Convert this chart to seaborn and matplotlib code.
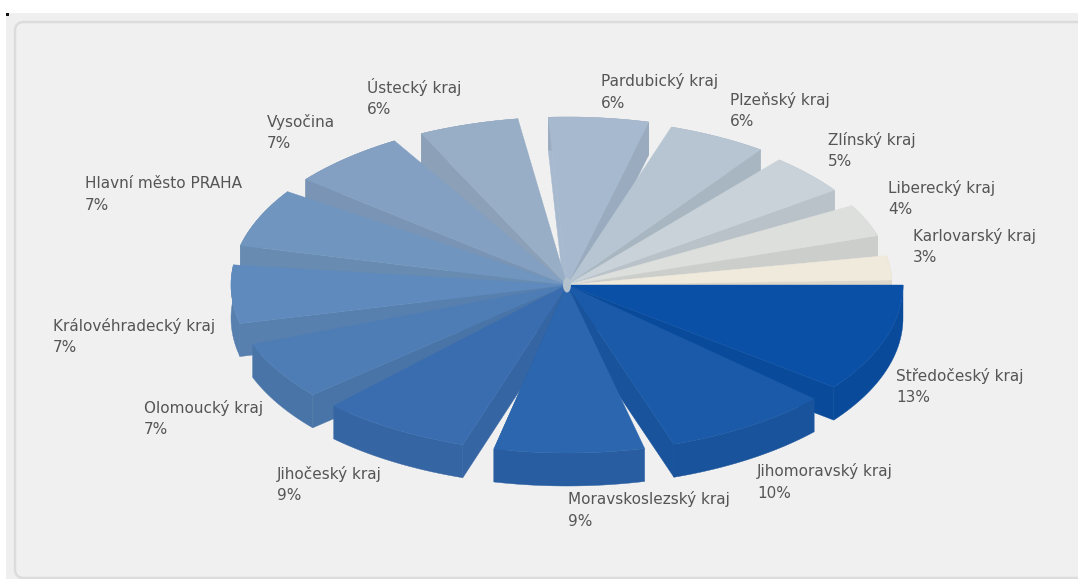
import numpy as np
import matplotlib
matplotlib.use("Agg")
import matplotlib.pyplot as plt
from matplotlib.colors import to_rgb
from matplotlib.patches import FancyBboxPatch, Rectangle, Ellipse
import seaborn as sns

# Regional shares in percent, clockwise from the east
regions = ["Středočeský kraj", "Jihomoravský kraj", "Moravskoslezský kraj", "Jihočeský kraj",
           "Olomoucký kraj", "Královéhradecký kraj", "Hlavní město PRAHA", "Vysočina",
           "Ústecký kraj", "Pardubický kraj", "Plzeňský kraj", "Zlínský kraj",
           "Liberecký kraj", "Karlovarský kraj"]
shares = [13, 10, 9, 9, 7, 7, 7, 7, 6, 6, 6, 5, 4, 3]

sns.set_theme(style="white")
plt.rcParams["font.family"] = ["DejaVu Sans"]

top_colors = sns.color_palette(["#0A50A6", "#1A5AA8", "#2B66AE", "#3A6DB0", "#4E7DB5", "#5F8ABD",
                                "#7096BF", "#83A0C3", "#97AEC6", "#A7B9CE", "#B6C5D1", "#C8D2D8",
                                "#DDDFDC", "#F0EADC"])

# Pie geometry in figure pixels
cx, cy = 567.0, 285.0
rx, ry = 336.0, 168.0
depth = 33.0
deg_per_pct = 2.88
gap_deg = 5.7
angle_shift = [0, -0.5, -1, -1.2, -1.7, 0, 1, 0.5, 0, -0.5, -2, -3, -2.5, -1]
reach = [1, 1, 1, 1, 1, 1, 1, 1, 1, 1, 0.99, 0.976, 0.97, 0.967]

# Label anchors: left edge and first-line centre, in pixels
label_x = [896, 757, 568, 277, 144, 53, 85, 267, 367, 601, 730, 828, 888, 913]
label_y = [376, 471, 499, 474, 408, 326, 184, 122, 87, 81, 100, 140, 188, 236]

fig = plt.figure(figsize=(10.78, 5.79), dpi=100, facecolor="white")
ax = fig.add_axes([0, 0, 1, 1])
ax.set_xlim(0, 1078)
ax.set_ylim(579, 0)
ax.axis("off")

# Page band and rounded panel behind the pie
ax.add_patch(Rectangle((6, 13), 1072, 566, fc="#EFEFEF", ec="none", zorder=0))
ax.add_patch(Rectangle((6, 13), 3, 3, fc="#111111", ec="none", zorder=0.5))
ax.add_patch(FancyBboxPatch((23, 30), 1080, 540, boxstyle="round,pad=8,rounding_size=9",
                            fc="#F0F0F0", ec="#DCDCDC", lw=1.8, zorder=1))


def rim(t_deg, scale):
    t = np.radians(t_deg)
    return cx + scale * rx * np.cos(t), cy + scale * ry * np.sin(t)


def radial_face(x_end, y_end, color, z):
    ax.fill([cx, x_end, x_end, cx], [cy, y_end, y_end + depth, cy + depth],
            fc=color, ec=color, lw=0.3, zorder=z)


# Angular extent of every wedge follows from its share
starts, ends = [], []
cursor = 0.0
for share, shift in zip(shares, angle_shift):
    starts.append(cursor + shift)
    ends.append(cursor + shift + share * deg_per_pct)
    cursor += share * deg_per_pct + gap_deg

# Paint from the back of the pie to the front
order = sorted(range(len(shares)), key=lambda i: np.sin(np.radians((starts[i] + ends[i]) / 2)))
for rank, i in enumerate(order):
    z = 2 + rank
    top = top_colors[i]
    wall = tuple(c * 0.925 for c in to_rgb(top))
    t = np.linspace(starts[i], ends[i], 80)
    x, y = rim(t, reach[i])

    # The radial face turned toward the viewer
    mid = np.radians((starts[i] + ends[i]) / 2)
    j = 0 if np.cos(mid) < 0 else -1
    radial_face(x[j], y[j], wall, z)

    # A wedge straddling the far point also shows a sliver of its other face
    if starts[i] < 270 < ends[i]:
        radial_face(x[0], y[0], top, z)

    # Outer wall
    ax.fill(np.r_[x, x[::-1]], np.r_[y, y[::-1] + depth], fc=wall, ec=wall, lw=0.3, zorder=z)

    # Upper surface
    ax.fill(np.r_[cx, x], np.r_[cy, y], fc=top, ec=top, lw=0.3, zorder=z + 0.5)

# Hub where the wedges meet
ax.add_patch(Ellipse((567, 285), 8, 15, fc="#B4C2CE", ec="none", zorder=40))

for name, share, lx, ly in zip(regions, shares, label_x, label_y):
    ax.text(lx, ly, name, ha="left", va="center", fontsize=10.95, color="#555555", zorder=50)
    ax.text(lx, ly + 22, f"{share}%", ha="left", va="center", fontsize=10.95, color="#555555", zorder=50)

fig.savefig("out.png", dpi=100, facecolor="white")
